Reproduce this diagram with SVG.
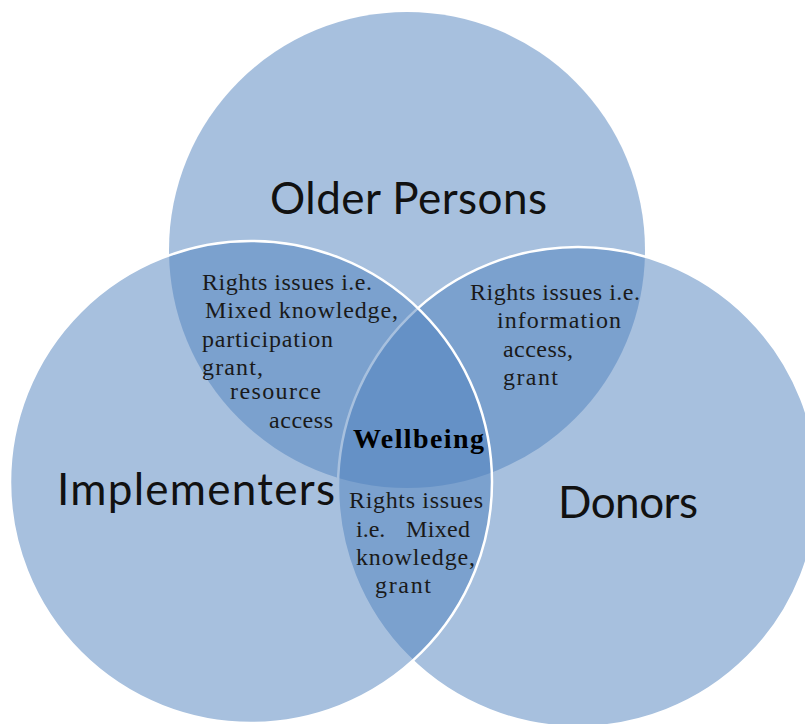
<svg xmlns="http://www.w3.org/2000/svg" width="805" height="724" viewBox="0 0 805 724">
  <style>
    .set { fill: #4F81BD; fill-opacity: 0.5; }
    .edge { stroke: #FFFFFF; stroke-width: 2.5; }
    .title { font-family: Lato, "Open Sans", "Liberation Sans", sans-serif; font-size: 44px; fill: #111111; }
    .note { font-family: "Liberation Serif", "DejaVu Serif", serif; font-size: 24px; fill: #1a1a1a; }
    .core { font-family: "Liberation Serif", "DejaVu Serif", serif; font-size: 28px; font-weight: bold; fill: #000000; }
  </style>

  <!-- three overlapping sets, drawn back to front -->
  <g id="older-persons">
    <circle class="set" cx="407" cy="250" r="238"/>
    <text class="title" x="270" y="214" textLength="277">Older Persons</text>
  </g>
  <g id="donors">
    <circle class="set edge" cx="578" cy="487" r="240"/>
    <text class="title" x="558" y="518" textLength="140">Donors</text>
  </g>
  <g id="implementers">
    <circle class="set edge" cx="251" cy="482" r="241"/>
    <text class="title" x="57" y="505" textLength="278">Implementers</text>
  </g>

  <!-- overlap labels -->
  <g id="older-implementers">
    <text class="note" x="202" y="290" textLength="170">Rights issues i.e.</text>
    <text class="note" x="205" y="318" textLength="193">Mixed knowledge,</text>
    <text class="note" x="202" y="347" textLength="131">participation</text>
    <text class="note" x="202" y="375" textLength="61">grant,</text>
    <text class="note" x="230" y="399" textLength="91">resource</text>
    <text class="note" x="269" y="428" textLength="64">access</text>
  </g>
  <g id="older-donors">
    <text class="note" x="470" y="300" textLength="170">Rights issues i.e.</text>
    <text class="note" x="497" y="328" textLength="124">information</text>
    <text class="note" x="503" y="357" textLength="70">access,</text>
    <text class="note" x="503" y="385" textLength="55">grant</text>
  </g>
  <g id="implementers-donors">
    <text class="note" x="349" y="508" textLength="134">Rights issues</text>
    <text class="note" x="356" y="537">i.e.</text>
    <text class="note" x="406" y="537" textLength="64">Mixed</text>
    <text class="note" x="356" y="565" textLength="119">knowledge,</text>
    <text class="note" x="375" y="593" textLength="56">grant</text>
  </g>
  <g id="wellbeing">
    <text class="core" x="353" y="448" textLength="131">Wellbeing</text>
  </g>

  <g id="connectors"/>
</svg>
